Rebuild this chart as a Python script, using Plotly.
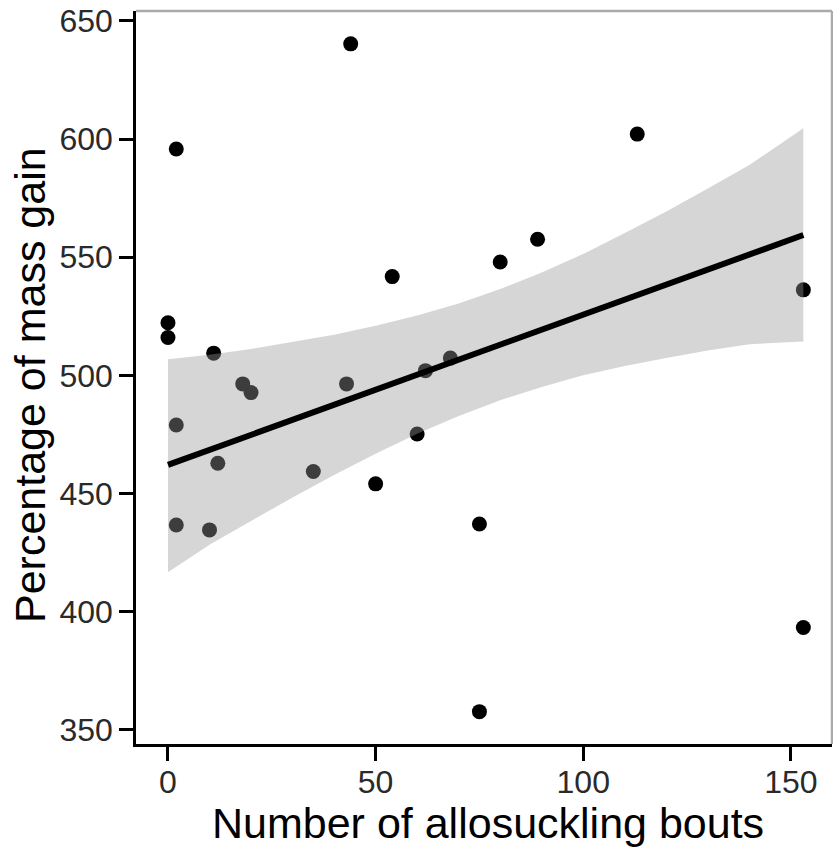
import plotly.graph_objects as go

# Observed data: allosuckling bouts vs. percentage of mass gain
bouts = [0, 0, 2, 2, 2, 10, 11, 12, 18, 20, 35, 43, 44, 50, 54, 60, 62, 68,
         75, 75, 80, 89, 113, 153, 153]
mass_gain = [522.3, 516.0, 595.8, 479.0, 436.7, 434.6, 509.4, 462.8, 496.4,
             492.7, 459.3, 496.4, 640.3, 454.1, 541.8, 475.2, 502.0, 507.3,
             437.1, 357.7, 548.0, 557.6, 602.1, 536.2, 393.3]

# Fitted trend and its confidence band
fit_x = [0, 153]
fit_y = [462.1, 559.4]
band_x = [0, 10, 20, 30, 40, 50, 60, 70, 80, 90, 100, 110, 120, 130, 140, 153]
band_upper = [506.8, 508.7, 511.2, 514.1, 517.2, 521.0, 525.3, 530.4, 536.5,
              543.5, 551.4, 560.2, 569.4, 579.1, 589.0, 604.6]
band_lower = [416.7, 428.3, 438.4, 448.3, 457.8, 466.8, 475.3, 482.8, 489.5,
              495.1, 500.0, 504.0, 507.4, 510.5, 513.2, 514.3]

x_ticks = [0, 50, 100, 150]
y_ticks = [350, 400, 450, 500, 550, 600, 650]

FONT = "Liberation Sans, Arial, Helvetica, sans-serif"

fig = go.Figure()

# points first, so the translucent band sits over them
fig.add_trace(go.Scatter(
    x=bouts, y=mass_gain, mode="markers",
    marker=dict(color="black", size=15, line=dict(width=0)),
    hoverinfo="skip", showlegend=False))

fig.add_trace(go.Scatter(
    x=band_x + band_x[::-1], y=band_upper + band_lower[::-1],
    mode="lines", line=dict(width=0),
    fill="toself", fillcolor="rgba(153,153,153,0.4)",
    hoverinfo="skip", showlegend=False))

fig.add_trace(go.Scatter(
    x=fit_x, y=fit_y, mode="lines",
    line=dict(color="black", width=6),
    hoverinfo="skip", showlegend=False))

axis_common = dict(
    showgrid=False, zeroline=False,
    showline=True, linecolor="black", linewidth=2.5,
    ticks="outside", ticklen=14, tickwidth=2.5, tickcolor="black",
    tickfont=dict(family=FONT, size=32, color="#2a2a2a"),
)

fig.update_xaxes(range=[-7.7, 159.9], tickvals=x_ticks, ticklabelstandoff=-6,
                 **axis_common)
fig.update_yaxes(range=[344.0, 654.2], tickvals=y_ticks, **axis_common)

# light panel border on the top and right
fig.add_shape(type="line", xref="paper", yref="paper", x0=0, x1=1, y0=1, y1=1,
              line=dict(color="#aaaaaa", width=2.5))
fig.add_shape(type="line", xref="paper", yref="paper", x0=1, x1=1, y0=0, y1=1,
              line=dict(color="#aaaaaa", width=2.5))

fig.add_annotation(text="Number of allosuckling bouts", xref="paper", yref="paper",
                   x=0.506, y=-0.108, xanchor="center", yanchor="middle",
                   showarrow=False, font=dict(family=FONT, size=43, color="black"))
fig.add_annotation(text="Percentage of mass gain", xref="paper", yref="paper",
                   x=-0.152, y=0.49, xanchor="center", yanchor="middle", textangle=-90,
                   showarrow=False, font=dict(family=FONT, size=43, color="black"))

fig.update_layout(
    width=833, height=852,
    margin=dict(l=136, r=1, t=11, b=108),
    paper_bgcolor="white", plot_bgcolor="white",
)

fig.write_html("out.html")
